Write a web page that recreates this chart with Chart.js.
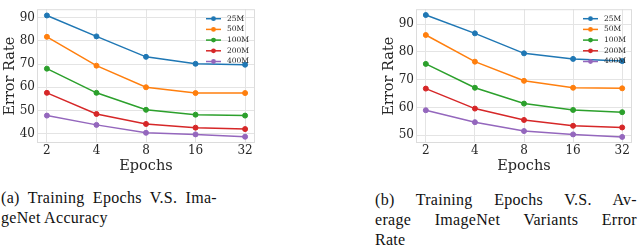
<!DOCTYPE html>
<html>
<head>
<meta charset="utf-8">
<script src="https://cdn.jsdelivr.net/npm/chart.js@4/dist/chart.umd.min.js"></script>
<style>
  body { margin: 0; background: #fff; width: 640px; height: 245px; overflow: hidden; position: relative; }
  canvas { position: absolute; top: 0; }
  .cap { position: absolute; font-family: "Liberation Serif", serif; font-size: 16px; letter-spacing: 0.3px; color: #111; line-height: 20px; white-space: nowrap; }
  .j { text-align: justify; text-align-last: justify; white-space: normal; }
</style>
</head>
<body>
<canvas id="c1" width="260" height="175" style="left:0px"></canvas>
<canvas id="c2" width="258" height="175" style="left:379px"></canvas>

<div class="cap j" style="left:1px;top:188px;width:216px">(a) Training Epochs V.S. Ima-</div>
<div class="cap" style="left:1px;top:208px">geNet Accuracy</div>
<div class="cap j" style="left:375px;top:190px;width:262px">(b) Training Epochs V.S. Av-</div>
<div class="cap j" style="left:375px;top:210px;width:262px">erage ImageNet Variants Error</div>
<div class="cap" style="left:375px;top:230px">Rate</div>

<script>
// x 轴：训练轮数
const epochs = ["2", "4", "8", "16", "32"];
const sizes = ["25M", "50M", "100M", "200M", "400M"];

// (a) ImageNet error rate
const errA_25M  = [90.9, 81.9, 73.1, 70.1, 69.7];
const errA_50M  = [81.7, 69.3, 60.0, 57.5, 57.5];
const errA_100M = [68.0, 57.6, 50.3, 48.2, 47.8];
const errA_200M = [57.6, 48.5, 44.2, 42.6, 42.0];
const errA_400M = [47.8, 43.8, 40.4, 39.7, 38.7];

// (b) average ImageNet variants error rate
const errB_25M  = [93.3, 86.7, 79.5, 77.5, 76.7];
const errB_50M  = [86.1, 76.5, 69.6, 67.1, 66.9];
const errB_100M = [75.7, 67.1, 61.4, 59.1, 58.3];
const errB_200M = [66.8, 59.6, 55.5, 53.4, 52.8];
const errB_400M = [59.0, 54.7, 51.5, 50.3, 49.4];

const yTicksA = [40, 50, 60, 70, 80, 90];
const yTicksB = [50, 60, 70, 80, 90];

const colors = ["#1f77b4", "#ff7f0e", "#2ca02c", "#d62728", "#9467bd"];
const textColor = "#262626";
const serif = "'DejaVu Serif', serif";

// 外框
const frame = {
  id: "frame",
  beforeDatasetsDraw(chart) {
    const { ctx, chartArea: a } = chart;
    ctx.save();
    ctx.strokeStyle = "#dcdcdc";
    ctx.lineWidth = 1;
    ctx.strokeRect(a.left + 0.5, a.top + 0.5, a.right - a.left - 1, a.bottom - a.top - 1);
    ctx.restore();
  }
};

// 图例画在右上角
const legendIn = {
  id: "legendIn",
  afterDatasetsDraw(chart) {
    const { ctx, chartArea: a } = chart;
    ctx.save();
    ctx.font = "7.5px " + serif;
    ctx.textBaseline = "middle";
    chart.data.datasets.forEach((ds, i) => {
      const y = a.top + 9.5 + i * 10.7;
      const x0 = a.right - 49;
      ctx.strokeStyle = ds.borderColor;
      ctx.lineWidth = 1.5;
      ctx.beginPath();
      ctx.moveTo(x0, y);
      ctx.lineTo(x0 + 15, y);
      ctx.stroke();
      ctx.fillStyle = ds.borderColor;
      ctx.beginPath();
      ctx.arc(x0 + 7.5, y, 2.4, 0, Math.PI * 2);
      ctx.fill();
      ctx.fillStyle = textColor;
      ctx.fillText(ds.label, a.right - 28, y);
    });
    ctx.restore();
  }
};

function makeChart(id, series, yMin, yMax, yTicks) {
  const datasets = series.map((vals, i) => ({
    label: sizes[i],
    data: vals.map((v, j) => ({ x: j, y: v })),
    borderColor: colors[i],
    backgroundColor: colors[i],
    pointBackgroundColor: colors[i],
    pointBorderColor: colors[i],
    borderWidth: 1.5,
    pointRadius: 2.5,
    pointBorderWidth: 1,
    tension: 0
  }));

  return new Chart(document.getElementById(id), {
    type: "line",
    data: { datasets },
    options: {
      responsive: false,
      animation: false,
      devicePixelRatio: 1,
      layout: { padding: { top: 0, right: 2, bottom: 0, left: 0 } },
      plugins: { legend: { display: false }, tooltip: { enabled: false } },
      scales: {
        x: {
          type: "linear",
          min: -0.2,
          max: 4.2,
          afterBuildTicks: s => { s.ticks = epochs.map((_, j) => ({ value: j })); },
          afterFit: s => { s.height = 32; },
          ticks: {
            callback: v => epochs[v],
            font: { family: serif, size: 12 },
            color: textColor,
            padding: 1,
            maxRotation: 0
          },
          grid: { color: "#e4e4e4", drawTicks: false },
          border: { display: false },
          title: {
            display: true,
            text: "Epochs",
            font: { family: serif, size: 14.5, lineHeight: 1.25 },
            color: textColor,
            padding: 0
          }
        },
        y: {
          min: yMin,
          max: yMax,
          afterBuildTicks: s => { s.ticks = yTicks.map(v => ({ value: v })); },
          afterFit: s => { s.width = 37; },
          ticks: {
            font: { family: serif, size: 12 },
            color: textColor,
            padding: 2
          },
          grid: { color: "#e4e4e4", drawTicks: false },
          border: { display: false },
          title: {
            display: true,
            text: "Error Rate",
            font: { family: serif, size: 14.5, lineHeight: 1.35 },
            color: textColor,
            padding: 0
          }
        }
      }
    },
    plugins: [frame, legendIn]
  });
}

makeChart("c1", [errA_25M, errA_50M, errA_100M, errA_200M, errA_400M], 36, 93.6, yTicksA);
makeChart("c2", [errB_25M, errB_50M, errB_100M, errB_200M, errB_400M], 47.2, 95.4, yTicksB);
</script>
</body>
</html>
